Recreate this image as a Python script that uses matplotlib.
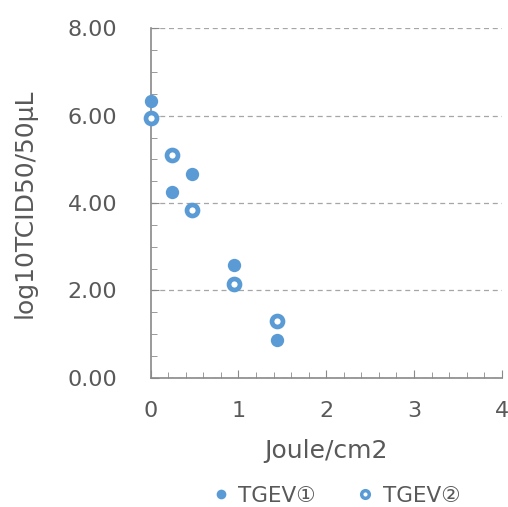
import numpy as np
import matplotlib.pyplot as plt
from matplotlib.lines import Line2D
from matplotlib.ticker import MultipleLocator, FormatStrFormatter

plt.rcParams['font.family'] = ['DejaVu Sans', 'Noto Sans CJK JP']

# UV dose (Joule/cm2) and virus titre for the two samples
dose_1 = [0.0, 0.24, 0.47, 0.95, 1.44]
titre_1 = [6.34, 4.26, 4.66, 2.58, 0.86]
dose_2 = [0.0, 0.24, 0.47, 0.95, 1.44]
titre_2 = [5.95, 5.09, 3.84, 2.15, 1.29]
labels = ['TGEV①', 'TGEV②']

blue = '#5B9BD5'
text_grey = '#595959'
axis_grey = '#898989'

fig = plt.figure(figsize=(5.08, 5.07), dpi=100)
ax = fig.add_axes([0.2967, 0.255, 0.691, 0.689])

ax.plot(dose_1, titre_1, 'o', color=blue, markersize=9.6, markeredgewidth=0,
        clip_on=False, zorder=3)
ax.plot(dose_2, titre_2, 'o', markerfacecolor='white', markeredgecolor=blue,
        markersize=7.9, markeredgewidth=3.4, clip_on=False, zorder=3)

ax.set_xlim(0, 4)
ax.set_ylim(0, 8)
ax.xaxis.set_major_locator(MultipleLocator(1))
ax.xaxis.set_minor_locator(MultipleLocator(0.2))
ax.yaxis.set_major_locator(MultipleLocator(2))
ax.yaxis.set_minor_locator(MultipleLocator(0.5))
ax.yaxis.set_major_formatter(FormatStrFormatter('%.2f'))

for s in ['top', 'right']:
    ax.spines[s].set_visible(False)
for s in ['left', 'bottom']:
    ax.spines[s].set_color(axis_grey)
    ax.spines[s].set_linewidth(1.2)

ax.grid(axis='y', which='major', color='#a6a6a6', linestyle=(0, (4, 3)), linewidth=0.9)
ax.tick_params(axis='both', which='major', direction='in', length=6, color=axis_grey,
               labelcolor=text_grey, labelsize=16)
ax.tick_params(axis='both', which='minor', direction='in', length=4.5, color=axis_grey)
ax.tick_params(axis='x', which='major', pad=17)
ax.tick_params(axis='y', which='major', pad=24)

ax.set_xlabel('Joule/cm2', fontsize=18, color=text_grey, labelpad=13)
ax.set_ylabel('log10TCID50/50μL', fontsize=18, color=text_grey)
ax.yaxis.set_label_coords(-0.325, 0.5)

# legend handles drawn a bit smaller than the plotted markers
handles = [
    Line2D([], [], linestyle='none', marker='o', color=blue, markersize=7,
           markeredgewidth=0),
    Line2D([], [], linestyle='none', marker='o', markerfacecolor='white',
           markeredgecolor=blue, markersize=5.5, markeredgewidth=2.5),
]
fig.legend(handles, labels, loc='center', bbox_to_anchor=(0.66, 0.022), ncol=2,
           frameon=False, fontsize=15.5, labelcolor=text_grey, handlelength=1.0,
           handletextpad=0.3, columnspacing=1.8)

fig.savefig('out.png', dpi=100)
